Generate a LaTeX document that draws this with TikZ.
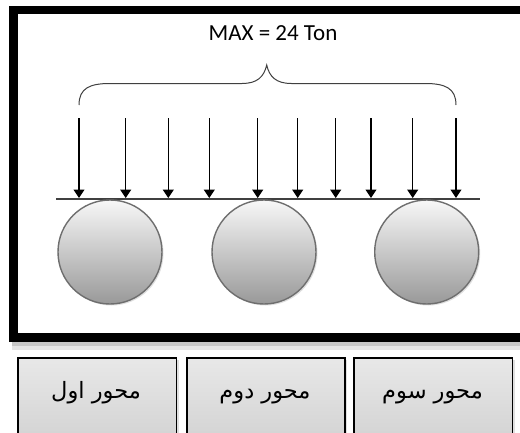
\documentclass[tikz,border=0pt]{standalone}
\usepackage{fontspec}
\setmainfont{Carlito}
\newfontfamily\arabicfont[Script=Arabic]{DejaVu Sans}
\TeXXeTstate=1
\usetikzlibrary{arrows.meta,shadows}
\definecolor{edgegray}{HTML}{6E6E6E}
\definecolor{linegray}{HTML}{404040}
\begin{document}
\begin{tikzpicture}[x=1pt,y=-1pt,
  frame/.style={line width=8.5pt,draw=black},
  wheel/.style={circle,draw=edgegray,line width=1.4pt,minimum size=104pt,inner sep=0pt,
    top color=white!97!black,bottom color=white!60!black,
    drop shadow={shadow xshift=1.5pt,shadow yshift=-1.5pt,opacity=0.25}},
  axlebox/.style={rectangle,draw=black,line width=1.5pt,inner sep=0pt,
    top color=white!91!black,bottom color=white!82!black,
    drop shadow={shadow xshift=2.5pt,shadow yshift=-2.5pt,opacity=0.25}},
  arr/.style={line width=1.1pt,-{Triangle[length=8.5pt,width=11pt]}},
  brace/.style={draw=linegray,line width=1pt},
  beam/.style={draw=linegray,line width=1.4pt},
  lbl/.style={inner sep=0pt,anchor=base,font=\arabicfont\fontsize{22.5}{27}\selectfont}
]
\clip (0,0) rectangle (520,432);
\fill[white] (0,0) rectangle (520,432);
% frame shadow
\fill[black,opacity=0.22] (12,342) rectangle (525,346);
\fill[black,opacity=0.1] (12,346) rectangle (525,350);
\draw[frame] (535,10) -- (13.5,10) -- (13.5,337.5) -- (535,337.5);
% title
\node[inner sep=0pt,font=\fontsize{23}{28}\selectfont] (title) at (273,33) {MAX = 24 Ton};
% brace
\coordinate (bl) at (79,105);
\coordinate (br) at (456,105);
\coordinate (bc) at (266.7,65);
\draw[brace] (bl) .. controls (79,88) and (90,83.5) .. (110,83.5) -- (242,83.5)
  .. controls (257,83.5) and (264,77) .. (bc)
  .. controls (269.4,77) and (276.4,83.5) .. (291.4,83.5) -- (425,83.5)
  .. controls (445,83.5) and (456,88) .. (br);
% arrows
\foreach \i/\x in {1/79,2/125.7,3/168.3,4/209.3,5/257.7,6/297.7,7/335.7,8/371,9/412.7,10/456}{
  \coordinate (t\i) at (\x,118);
  \coordinate (h\i) at (\x,198);
  \draw[arr] (t\i) -- (h\i);
}
% beam
\coordinate (L1) at (56,199);
\coordinate (L2) at (480,199);
\draw[beam] (L1) -- (L2);
% wheels
\node[wheel] (w1) at (110,252) {};
\node[wheel] (w2) at (264,252) {};
\node[wheel] (w3) at (426.7,252) {};
% boxes
\node[axlebox,minimum width=158.5pt,minimum height=90pt,anchor=north west] (b1) at (17,357) {};
\node[axlebox,minimum width=158pt,minimum height=90pt,anchor=north west] (b2) at (186,357) {};
\node[axlebox,minimum width=158.7pt,minimum height=90pt,anchor=north west] (b3) at (353,357) {};
\node[lbl] (t1) at (96,398) {\beginR محور اول\endR};
\node[lbl] (t2) at (265,398) {\beginR محور دوم\endR};
\node[lbl] (t3) at (432.5,398) {\beginR محور سوم\endR};
\end{tikzpicture}
\end{document}
